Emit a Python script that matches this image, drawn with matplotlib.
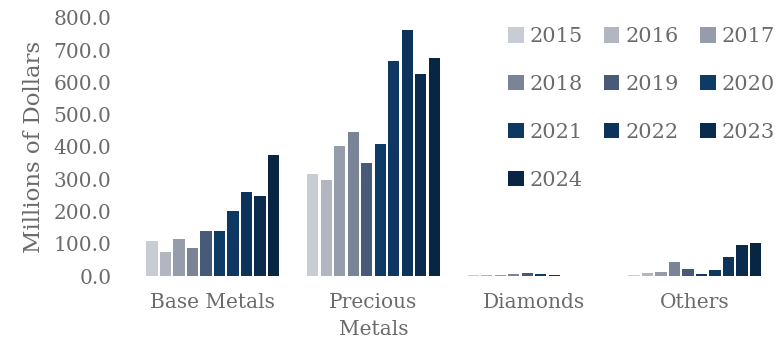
import numpy as np
import matplotlib.pyplot as plt

categories = ["Base Metals", "Precious\nMetals", "Diamonds", "Others"]
years = ["2015", "2016", "2017", "2018", "2019", "2020", "2021", "2022", "2023", "2024"]

# values per year: [Base Metals, Precious Metals, Diamonds, Others]
v2015 = [108, 316, 3, 4]
v2016 = [74, 298, 3, 10]
v2017 = [115, 402, 3, 12]
v2018 = [86, 447, 7, 44]
v2019 = [139, 349, 8, 22]
v2020 = [140, 408, 5, 7]
v2021 = [202, 668, 3, 20]
v2022 = [261, 763, 1, 59]
v2023 = [248, 627, 1, 97]
v2024 = [375, 675, 1, 103]
values = [v2015, v2016, v2017, v2018, v2019, v2020, v2021, v2022, v2023, v2024]

colors = ["#c8ccd4", "#b1b6c0", "#959dab", "#7a8497", "#475a78",
          "#0e3a66", "#0e3761", "#0c335c", "#0a2a4e", "#082544"]

txt = "#6b6b6b"
plt.rcParams["font.family"] = ["DejaVu Serif"]

fig = plt.figure(figsize=(7.83, 3.45), dpi=100)
ax = fig.add_axes([0.169, 0.2, 0.821, 0.748])

x = np.arange(len(categories))
slot = 0.084
for i, (yr, vals) in enumerate(zip(years, values)):
    ax.bar(x + (i - 4.5) * slot, vals, width=slot * 0.83, color=colors[i], label=yr)

ax.set_xlim(-0.5, 3.5)
ax.set_ylim(0, 800)
ax.set_yticks(np.arange(0, 801, 100))
ax.set_yticklabels([f"{t:.1f}" for t in np.arange(0, 801, 100)])
ax.set_xticks(x)
ax.set_xticklabels(categories, linespacing=1.55)
ax.tick_params(axis="both", length=0, labelsize=14.5, colors=txt)
ax.tick_params(axis="x", pad=12)
ax.tick_params(axis="y", pad=15)
for s in ax.spines.values():
    s.set_visible(False)
ax.set_ylabel("Millions of Dollars", fontsize=16.5, color=txt, labelpad=6)

# legend reads row by row in the reference
handles, labels = ax.get_legend_handles_labels()
order = [0, 3, 6, 9, 1, 4, 7, 2, 5, 8]
leg = ax.legend([handles[k] for k in order], [labels[k] for k in order],
                ncol=3, loc="upper left", bbox_to_anchor=(0.638, 0.945, 0.36, 0.0),
                bbox_transform=fig.transFigure, frameon=False, fontsize=15,
                handlelength=0.75, handleheight=0.75, handletextpad=0.3,
                columnspacing=1.0, labelspacing=1.38, borderaxespad=0)
for t in leg.get_texts():
    t.set_color(txt)

fig.savefig("out.png", dpi=100)
